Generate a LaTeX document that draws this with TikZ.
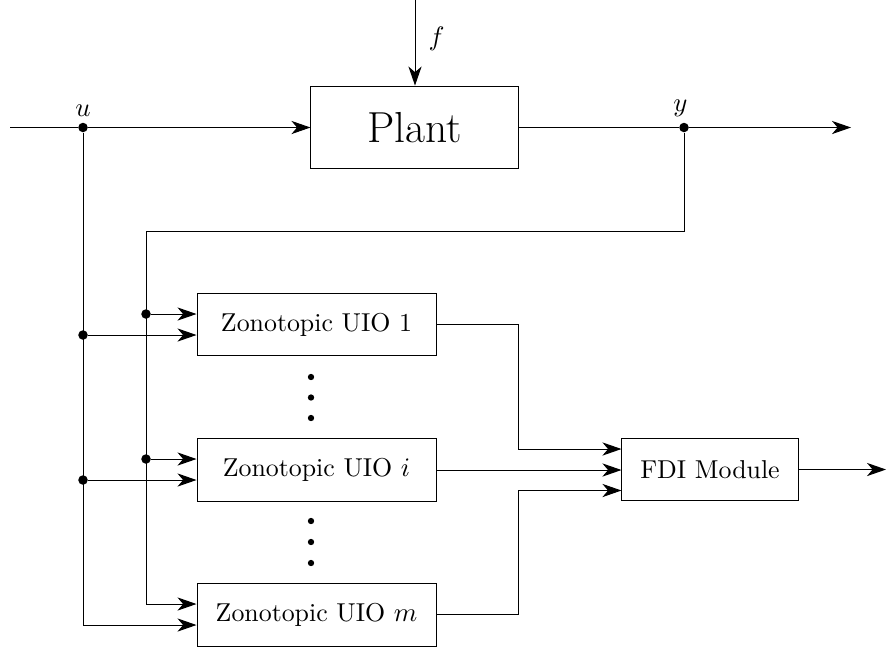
\documentclass[tikz,border=0pt]{standalone}
\usetikzlibrary{arrows.meta,calc}
\begin{document}
\begin{tikzpicture}[x=0.41pt,y=-0.41pt,
  font=\fontsize{10.6}{12.7}\selectfont,
  blk/.style={draw,rectangle,inner sep=0pt},
  arr/.style={-{Stealth[length=7.8pt,width=5.4pt,inset=2.3pt]}},
  jdot/.style={circle,fill,inner sep=0pt,minimum size=3.9pt},
  vdot/.style={circle,fill,inner sep=0pt,minimum size=2.6pt}]
\useasboundingbox (0,0) rectangle (887,650);
% blocks
\node[blk,minimum width=84.9pt,minimum height=34pt] (plant) at (414.5,127.5) {\fontsize{17.8}{21}\selectfont Plant};
\node[blk,minimum width=98pt,minimum height=25.6pt] (uio1) at (316.5,324.5) {Zonotopic UIO 1};
\node[blk,minimum width=98pt,minimum height=25.6pt] (uioi) at (316.5,470) {Zonotopic UIO $i$};
\node[blk,minimum width=98pt,minimum height=25.6pt] (uiom) at (316.5,615) {Zonotopic UIO $m$};
\node[blk,minimum width=72.2pt,minimum height=25.8pt] (fdi) at (710,469.5) {FDI Module};
% coordinates
\coordinate (in) at (10,127.5);
\coordinate (ftop) at (415,0);
\coordinate (out) at (851,127.5);
\coordinate (fdiout) at (886,469.5);
\node[jdot] (u) at (83,127.5) {};
\node[jdot] (y) at (684,127.5) {};
\node[jdot] (ya) at (146,314) {};
\node[jdot] (yb) at (146,459) {};
\node[jdot] (ua) at (83,335) {};
\node[jdot] (ub) at (83,480) {};
\coordinate (fb) at (684,231);
\coordinate (fbl) at (146,231);
\coordinate (ycorner) at (146,604);
\coordinate (ucorner) at (83,625);
\coordinate (k1) at (518,324.5);
\coordinate (k1b) at (518,449);
\coordinate (km) at (518,614.5);
\coordinate (kmb) at (518,490.5);
% labels
\node[above=1pt] at (u) {$u$};
\node[above=1pt,xshift=-1.5pt] at (y) {$y$};
% top signals
\draw[arr] (ftop) -- node[right=2pt,pos=0.45] {$f$} (plant.north -| ftop);
\draw[arr] (in) -- (u) -- (plant.west);
\draw[arr] (plant.east) -- (y) -- (out);
% feedback y
\draw (y) -- (fb) -- (fbl) -- (ycorner);
\draw[arr] (ycorner) -- (uiom.west |- ycorner);
\draw[arr] (ya) -- (uio1.west |- ya);
\draw[arr] (yb) -- (uioi.west |- yb);
% u branch
\draw (u) -- (ucorner);
\draw[arr] (ucorner) -- (uiom.west |- ucorner);
\draw[arr] (ua) -- (uio1.west |- ua);
\draw[arr] (ub) -- (uioi.west |- ub);
% outputs to FDI
\draw[arr] (uio1.east) -- (k1) -- (k1b) -- (fdi.west |- k1b);
\draw[arr] (uioi.east) -- (fdi.west |- uioi.east);
\draw[arr] (uiom.east |- km) -- (km) -- (kmb) -- (fdi.west |- kmb);
\draw[arr] (fdi.east) -- (fdiout);
% vertical dots
\foreach \yy in {377,397.5,418,521,542,563} \node[vdot] at (311,\yy) {};
\end{tikzpicture}
\end{document}
